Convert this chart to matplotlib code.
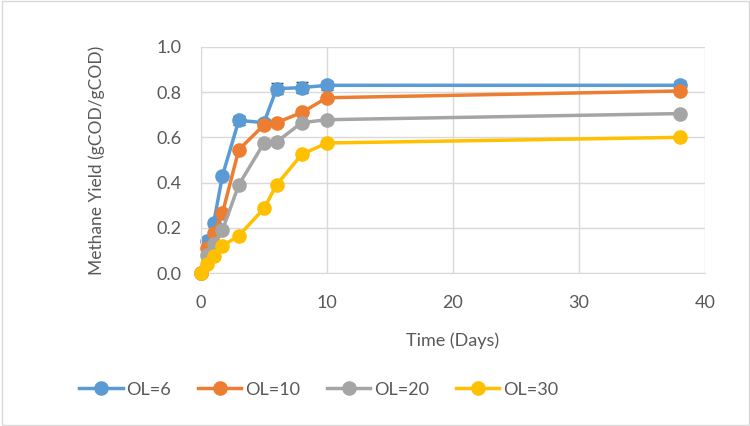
import matplotlib.pyplot as plt

# sampling times (days)
time = [0, 0.5, 1, 1.7, 3, 5, 6, 8, 10, 38]

ol6 = [0, 0.14, 0.22, 0.43, 0.675, 0.665, 0.815, 0.82, 0.83, 0.83]
ol6_err = [0, 0.01, 0.01, 0.01, 0.02, 0.015, 0.025, 0.025, 0.02, 0.02]
ol10 = [0, 0.11, 0.175, 0.265, 0.545, 0.655, 0.665, 0.71, 0.775, 0.805]
ol20 = [0, 0.08, 0.13, 0.19, 0.39, 0.575, 0.58, 0.665, 0.678, 0.705]
ol30 = [0, 0.04, 0.075, 0.12, 0.165, 0.286, 0.39, 0.525, 0.575, 0.60]

series = [
    ("OL=6", ol6, "#5B9BD5"),
    ("OL=10", ol10, "#ED7D31"),
    ("OL=20", ol20, "#A5A5A5"),
    ("OL=30", ol30, "#FFC000"),
]

plt.rcParams['font.family'] = ['Lato', 'DejaVu Sans']
txt = '#595959'
fs = 13

fig = plt.figure(figsize=(7.5, 4.26), dpi=100)
ax = fig.add_axes([0.268, 0.359, 0.672, 0.531])

ax.errorbar(time, ol6, yerr=ol6_err, fmt='none', ecolor='#404040',
            elinewidth=1, capsize=4, zorder=1, clip_on=False)
for i, (name, vals, col) in enumerate(series):
    ax.plot(time, vals, '-o', color=col, lw=2.5, ms=9.5, label=name,
            zorder=2 + i, clip_on=False)

ax.set_xlim(0, 40)
ax.set_ylim(0, 1.0)
ax.set_xticks([0, 10, 20, 30, 40])
ax.set_yticks([0, 0.2, 0.4, 0.6, 0.8, 1.0])
ax.set_yticklabels([f'{v:.1f}' for v in ax.get_yticks()])
ax.grid(True, color='#D9D9D9', lw=1)
ax.set_axisbelow(True)
for s in ax.spines.values():
    s.set_visible(False)
for side in ['bottom', 'left']:
    ax.spines[side].set_visible(True)
    ax.spines[side].set_color('#D9D9D9')
ax.tick_params(length=0, colors=txt, labelsize=fs)
ax.tick_params(axis='y', pad=14)
ax.tick_params(axis='x', pad=16)

ax.set_xlabel('Time (Days)', color=txt, fontsize=fs, labelpad=15)
ax.set_ylabel('Methane Yield (gCOD/gCOD)', color=txt, fontsize=12.5, labelpad=37)

fig.legend(loc='center', bbox_to_anchor=(0.425, 0.085), ncol=4, frameon=False,
           fontsize=fs, labelcolor=txt, handlelength=2.4, columnspacing=1.5,
           handletextpad=0.2)

fig.patches.append(plt.Rectangle((0.002, 0.002), 0.996, 0.996, transform=fig.transFigure,
                                 fill=False, edgecolor='#D9D9D9', lw=1))

fig.savefig('out.png', dpi=100)
